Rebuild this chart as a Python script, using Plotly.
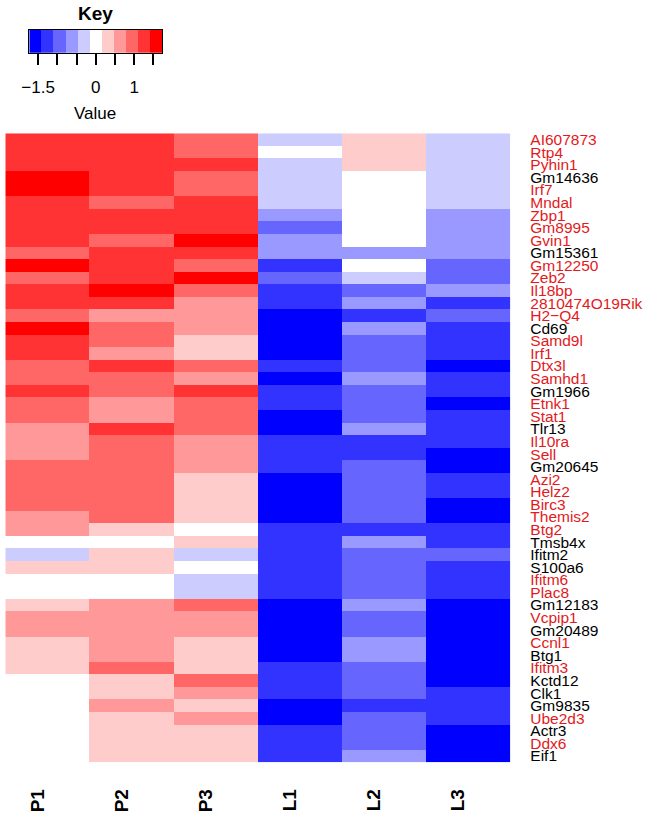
import plotly.graph_objects as go

# ---- data (z-scores) ----
samples = ["P1", "P2", "P3", "L1", "L2", "L3"]
genes = ["AI607873", "Rtp4", "Pyhin1", "Gm14636", "Irf7", "Mndal", "Zbp1", "Gm8995", "Gvin1", "Gm15361",
         "Gm12250", "Zeb2", "Il18bp", "2810474O19Rik", "H2\u2212Q4", "Cd69", "Samd9l", "Irf1", "Dtx3l", "Samhd1",
         "Gm1966", "Etnk1", "Stat1", "Tlr13", "Il10ra", "Sell", "Gm20645", "Azi2", "Helz2", "Birc3",
         "Themis2", "Btg2", "Tmsb4x", "Ifitm2", "S100a6", "Ifitm6", "Plac8", "Gm12183", "Vcpip1", "Gm20489",
         "Ccnl1", "Btg1", "Ifitm3", "Kctd12", "Clk1", "Gm9835", "Ube2d3", "Actr3", "Ddx6", "Eif1"]
black_genes = ["Gm14636", "Gm15361", "Cd69", "Gm1966", "Tlr13", "Gm20645", "Tmsb4x", "Ifitm2", "S100a6",
               "Gm12183", "Gm20489", "Btg1", "Kctd12", "Clk1", "Gm9835", "Actr3", "Eif1"]

P1 = [1.26, 1.26, 1.26, 1.57, 1.57, 1.26, 1.26, 1.26, 1.26, 0.94, 1.57, 0.94, 1.26, 1.26, 0.94, 1.57, 1.26, 1.26, 0.94, 0.94,
      1.26, 0.94, 0.94, 0.63, 0.63, 0.63, 0.94, 0.94, 0.94, 0.94, 0.63, 0.63, 0.0, -0.31, 0.31, 0.0, 0.0, 0.31, 0.63, 0.63,
      0.31, 0.31, 0.31, 0.0, 0.0, 0.0, 0.0, 0.0, 0.0, 0.0]
P2 = [1.26, 1.26, 1.26, 1.26, 1.26, 0.94, 1.26, 1.26, 0.94, 1.26, 1.26, 1.26, 1.57, 1.26, 0.63, 0.94, 0.94, 0.63, 1.26, 0.94,
      0.94, 0.63, 0.63, 1.26, 0.94, 0.94, 0.94, 0.94, 0.94, 0.94, 0.94, 0.31, 0.0, 0.31, 0.31, 0.0, 0.0, 0.63, 0.63, 0.63,
      0.63, 0.63, 0.94, 0.31, 0.31, 0.63, 0.31, 0.31, 0.31, 0.31]
P3 = [0.94, 0.94, 1.26, 0.94, 0.94, 1.26, 1.26, 1.26, 1.57, 1.26, 0.94, 1.57, 0.94, 0.63, 0.63, 0.63, 0.31, 0.31, 0.94, 0.63,
      1.26, 0.94, 0.94, 0.94, 0.63, 0.63, 0.63, 0.31, 0.31, 0.31, 0.31, 0.0, 0.31, -0.31, 0.0, -0.31, -0.31, 0.94, 0.63, 0.63,
      0.31, 0.31, 0.31, 0.94, 0.63, 0.31, 0.63, 0.31, 0.31, 0.31]
L1 = [-0.31, 0.0, -0.31, -0.31, -0.31, -0.31, -0.63, -0.94, -0.63, -0.63, -1.26, -0.94, -1.26, -1.26, -1.57, -1.57, -1.57, -1.57, -1.26, -1.57,
      -1.26, -1.26, -1.57, -1.57, -1.26, -1.26, -1.26, -1.57, -1.57, -1.57, -1.57, -1.26, -1.26, -1.26, -1.26, -1.26, -1.26, -1.57, -1.57, -1.57,
      -1.57, -1.57, -1.26, -1.26, -1.26, -1.57, -1.57, -1.26, -1.26, -1.26]
L2 = [0.31, 0.31, 0.31, 0.0, 0.0, 0.0, 0.0, 0.0, 0.0, -0.63, 0.0, -0.31, -0.94, -0.63, -1.26, -0.63, -0.94, -0.94, -0.94, -0.63,
      -0.94, -0.94, -0.94, -0.63, -1.26, -1.26, -0.94, -0.94, -0.94, -0.94, -0.94, -1.26, -0.63, -0.94, -0.94, -0.94, -0.94, -0.63, -0.94, -0.94,
      -0.63, -0.63, -0.94, -0.94, -0.94, -1.26, -0.94, -0.94, -0.94, -0.63]
L3 = [-0.31, -0.31, -0.31, -0.31, -0.31, -0.31, -0.63, -0.63, -0.63, -0.63, -0.94, -0.94, -0.63, -1.26, -0.94, -1.26, -1.26, -1.26, -1.57, -1.26,
      -1.26, -1.57, -1.26, -1.26, -1.26, -1.57, -1.57, -1.26, -1.26, -1.57, -1.57, -1.26, -1.26, -0.94, -1.26, -1.26, -1.26, -1.57, -1.57, -1.57,
      -1.57, -1.57, -1.57, -1.57, -1.26, -1.26, -1.26, -1.57, -1.57, -1.57]

key_ticks = [-1.5, -1.0, -0.5, 0.0, 0.5, 1.0, 1.5]
key_ticktext = ["\u22121.5", "", "", "0", "", "1", ""]

# ---- colours: 11 discrete bins blue-white-red ----
bin_colors = ["#0000FF", "#3333FF", "#6666FF", "#9999FF", "#CCCCFF", "#FFFFFF",
              "#FFCCCC", "#FF9999", "#FF6666", "#FF3333", "#FF0000"]
ZMIN, ZMAX = -1.73, 1.73
nb = len(bin_colors)
colorscale = []
for i, c in enumerate(bin_colors):
    colorscale.append([i / nb, c])
    colorscale.append([(i + 1) / nb, c])
binw = (ZMAX - ZMIN) / nb
key_x = [ZMIN + (i + 0.5) * binw for i in range(nb)]

cols = [P1, P2, P3, L1, L2, L3]
z = [[cols[j][i] for j in range(len(samples))] for i in range(len(genes))]

RED = "#E3191C"
ticktext = [g if g in black_genes else f'<span style="color:{RED}">{g}</span>' for g in genes]

W, H = 650, 820
FONT = "Liberation Sans, Arial, Helvetica, sans-serif"


def fx(px):
    return px / W


def fy(py):
    return 1 - py / H


fig = go.Figure()
fig.add_trace(go.Heatmap(
    z=z, x=list(range(len(samples))), y=list(range(len(genes))),
    colorscale=colorscale, zmin=ZMIN, zmax=ZMAX, showscale=False,
    xaxis="x", yaxis="y", hoverinfo="skip"))
fig.add_trace(go.Heatmap(
    z=[key_x], x=key_x, y=[0],
    colorscale=colorscale, zmin=ZMIN, zmax=ZMAX, showscale=False,
    xaxis="x2", yaxis="y2", hoverinfo="skip"))

fig.update_layout(
    width=W, height=H, margin=dict(l=0, r=0, t=0, b=0, autoexpand=False),
    paper_bgcolor="white", plot_bgcolor="white",
    font=dict(family=FONT, color="black"),
    xaxis=dict(domain=[fx(5.3), fx(510.3)], range=[-0.5, 5.5], automargin=False,
               tickvals=list(range(len(samples))), ticktext=[f"<b>{s}</b>" for s in samples],
               tickangle=-90, tickfont=dict(size=19, family=FONT), ticks="",
               ticklabelshift=-10, ticklabelstandoff=22,
               showgrid=False, zeroline=False, showline=False, anchor="y"),
    yaxis=dict(domain=[fy(762.3), fy(133.3)], range=[len(genes) - 0.5, -0.5], automargin=False,
               side="right", tickvals=list(range(len(genes))), ticktext=ticktext,
               tickfont=dict(size=15.5, family=FONT, color="black"), ticks="",
               ticklabelstandoff=19,
               showgrid=False, zeroline=False, showline=False, anchor="x"),
    xaxis2=dict(domain=[fx(29.3), fx(162.3)], range=[ZMIN, ZMAX], automargin=False,
                tickvals=key_ticks, ticktext=key_ticktext, ticks="outside", ticklen=11,
                tickwidth=1.5, tickcolor="black", tickfont=dict(size=17, family=FONT),
                ticklabelstandoff=8,
                showline=True, mirror=True, linecolor="black", linewidth=1.2,
                showgrid=False, zeroline=False, anchor="y2"),
    yaxis2=dict(domain=[fy(52.7), fy(30)], range=[-0.5, 0.5], automargin=False,
                showticklabels=False, ticks="", showline=True, mirror=True,
                linecolor="black", linewidth=1.2, showgrid=False, zeroline=False, anchor="x2"),
    annotations=[
        dict(text="<b>Key</b>", x=fx(95.8), y=fy(13), xref="paper", yref="paper",
             showarrow=False, font=dict(size=19, family=FONT), xanchor="center", yanchor="middle"),
        dict(text="Value", x=fx(95), y=fy(113), xref="paper", yref="paper",
             showarrow=False, font=dict(size=17, family=FONT), xanchor="center", yanchor="middle"),
    ],
)

# remove the default 8px page margin so the figure sits at the window's corner
fig.write_html("out.html", config={"displayModeBar": False},
               post_script="document.body.style.margin='0px';document.body.style.overflow='hidden';")
